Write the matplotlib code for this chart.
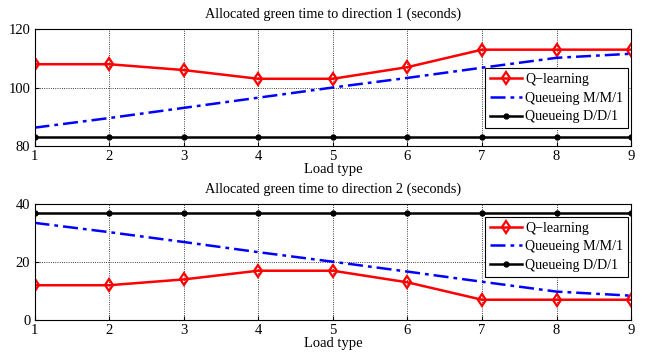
"""
Allocated green time per direction, Q-learning vs queueing models
"""

import matplotlib
matplotlib.use('Agg')
import matplotlib.pyplot as plt
import numpy as np

plt.rcParams['font.family'] = ['Liberation Serif', 'DejaVu Serif']
plt.rcParams['mathtext.fontset'] = 'stix'

load_type = [1, 2, 3, 4, 5, 6, 7, 8, 9]

# direction 1
q_dir1 = [108, 108, 106, 103, 103, 107, 113, 113, 113]
mm1_dir1 = [86.2, 89.5, 93.0, 96.5, 100.0, 103.3, 106.8, 110.2, 111.6]
dd1_dir1 = [83, 83, 83, 83, 83, 83, 83, 83, 83]

# direction 2
q_dir2 = [12, 12, 14, 17, 17, 13, 7, 7, 7]
mm1_dir2 = [33.5, 30.3, 26.9, 23.4, 20.1, 16.7, 13.2, 9.8, 8.4]
dd1_dir2 = [37, 37, 37, 37, 37, 37, 37, 37, 37]

panels = [
    ('Allocated green time to direction 1 (seconds)', q_dir1, mm1_dir1,
     dd1_dir1, (80, 120), [80, 100, 120], 0.665),
    ('Allocated green time to direction 2 (seconds)', q_dir2, mm1_dir2,
     dd1_dir2, (0, 40), [0, 20, 40], 0.89),
]

fig = plt.figure(figsize=(6.45, 3.56), dpi=100)
boxes = [[0.0535, 0.5907, 0.925, 0.327], [0.0535, 0.101, 0.925, 0.326]]

for box, (title, q, mm1, dd1, ylim, yticks, leg_y) in zip(boxes, panels):
  ax = fig.add_axes(box)
  ax.plot(load_type, q, color='red', lw=1.8, marker='d', ms=6.5,
          mfc='none', mew=1.6, label='Q\u2212learning')
  ax.plot(load_type, mm1, color='blue', lw=1.8, linestyle=(0, (6, 2, 1.5, 2)),
          label='Queueing M/M/1')
  ax.plot(load_type, dd1, color='black', lw=1.8, marker='o', ms=3.5,
          label='Queueing D/D/1')

  ax.set_xlim(1, 9)
  ax.set_ylim(*ylim)
  ax.set_xticks(load_type)
  ax.set_yticks(yticks)
  ax.grid(True, color='black', linestyle=':', linewidth=0.6)
  ax.tick_params(direction='in', labelsize=10.5, length=3, pad=3)
  for sp in ax.spines.values():
    sp.set_linewidth(0.8)

  ax.set_title(title, fontsize=10.3, pad=8)
  ax.set_xlabel('Load type', fontsize=10.5, labelpad=0)
  leg = ax.legend(loc='upper right', bbox_to_anchor=(0.995, leg_y),
                  fontsize=10.1, fancybox=False, framealpha=1,
                  edgecolor='black', borderpad=0.35, labelspacing=0.4,
                  handlelength=2.3, handletextpad=0.2, borderaxespad=0.0)
  leg.get_frame().set_linewidth(0.8)

plt.savefig('out.png', dpi=100)
